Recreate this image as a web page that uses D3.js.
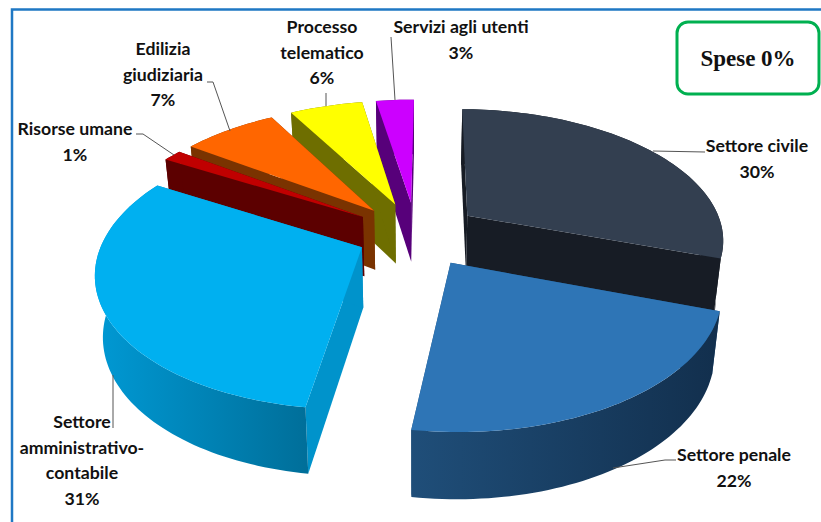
<!DOCTYPE html>
<html>
<meta charset="utf-8">
<style>
  html, body { margin: 0; padding: 0; background: #fff; }
  svg { display: block; }
  .lab { font-family: Lato, "Noto Sans", sans-serif; font-weight: 700; font-size: 17.7px; fill: #111; text-anchor: middle; }
</style>
<script src="https://d3js.org/d3.v7.min.js"></script>
<body>

<script>
var width = 821, height = 522;

// values (printed labels are these, rounded)
var categories = ["Settore civile", "Settore penale", "Settore amministrativo-contabile", "Risorse umane", "Edilizia giudiziaria", "Processo telematico", "Servizi agli utenti"];
var values = [30.15, 22, 31, 1.4, 7.1, 5.5, 2.85];

// how each category name is broken on lines
var labelLines = [["Settore civile"], ["Settore penale"], ["Settore", "amministrativo-", "contabile"], ["Risorse umane"], ["Edilizia", "giudiziaria"], ["Processo", "telematico"], ["Servizi agli utenti"]];
var topColors = ["#333f50", "#2e75b6", "#00b0f0", "#c00000", "#ff6600", "#ffff00", "#cc00ff"];
var faceColors = ["#171c25", "#1f4e79", "#0093cb", "#5c0000", "#7a3300", "#6e6e00", "#57007a"];
// wall colour at its left and right end
var sideColors = [["#171c25", "#171c25"], ["#1f4e79", "#122f4d"], ["#0099d4", "#006f9a"], ["#5c0000", "#5c0000"], ["#7a3300", "#7a3300"], ["#6e6e00", "#6e6e00"], ["#57007a", "#57007a"]];
var explode = [0.25, 0.25, 0.23, 0.25, 0.25, 0.25, 0.25];
var labelX = [757, 734, 82, 75, 163, 322, 461];
var labelY = [146, 455, 422, 129, 49, 27, 27];
var leaders = [
  [[705, 152], [653, 151]],
  [[676, 460], [665, 460], [613, 468]],
  [[113, 428], [113, 375]],
  [[136, 134], [143, 134], [174, 155]],
  [[207, 82], [213, 82], [230, 131]],
  [[326, 93], [326, 106]],
  [[391, 37], [395, 100]]
];

var depth = 5.97, thick = 60, bottomShrink = 0.975, turn = 0.01;

var x = d3.scaleLinear().domain([-1, 1]).range([416 - 257, 416 + 257]);
var y = d3.scaleLinear().domain([-1, 1]).range([234 - 130, 234 + 130]);

var svg = d3.select("body").append("svg").attr("width", width).attr("height", height);
var defs = svg.append("defs");

svg.append("rect").attr("x", 12).attr("y", 9.5).attr("width", width + 20).attr("height", height + 20)
  .attr("fill", "#fff").attr("stroke", "#1f78c4").attr("stroke-width", 2.5);

var arcs = d3.pie().value(function(d) { return d; }).sort(null)
  .startAngle(turn).endAngle(2 * Math.PI + turn)(values);

// plane point (u right, v toward the viewer) to screen, with perspective
function project(u, v, low) {
  var s = 1 / (1 - v / depth);
  var px = x(u * s), py = y(v * s);
  if (low) {
    px = x(0) + (px - x(0)) * bottomShrink;
    py = py + thick * Math.sqrt(s);
  }
  return [px, py];
}

function rimPoint(a, th, low) {
  var mid = (a.startAngle + a.endAngle) / 2, e = explode[a.index];
  return project(e * Math.sin(mid) + Math.sin(th), -e * Math.cos(mid) - Math.cos(th), low);
}

function apex(a, low) {
  var mid = (a.startAngle + a.endAngle) / 2, e = explode[a.index];
  return project(e * Math.sin(mid), -e * Math.cos(mid), low);
}

function rim(a, low) {
  var n = Math.max(4, Math.ceil((a.endAngle - a.startAngle) * 40));
  return d3.range(n + 1).map(function(i) {
    return rimPoint(a, a.startAngle + (a.endAngle - a.startAngle) * i / n, low);
  });
}

var line = d3.line();
var shape = d3.line().curve(d3.curveLinearClosed);

// painter's order: far slices first, the front ones over them
var order = [6, 5, 4, 3, 0, 2, 1];

order.forEach(function(i) {
  var a = arcs[i];
  var g = svg.append("g").attr("class", "slice");
  var gradId = "side" + i;
  var topRim = rim(a, false), lowRim = rim(a, true);
  var ext = d3.extent(topRim, function(p) { return p[0]; });
  var grad = defs.append("linearGradient").attr("id", gradId).attr("gradientUnits", "userSpaceOnUse")
    .attr("x1", ext[0]).attr("x2", ext[1]).attr("y1", 0).attr("y2", 0);
  grad.append("stop").attr("offset", "0%").attr("stop-color", sideColors[i][0]);
  grad.append("stop").attr("offset", "100%").attr("stop-color", sideColors[i][1]);

  // the two cut faces
  [a.startAngle, a.endAngle].forEach(function(th) {
    g.append("path")
      .attr("d", shape([apex(a, false), rimPoint(a, th, false), rimPoint(a, th, true), apex(a, true)]))
      .attr("fill", faceColors[i]);
  });
  // curved wall
  g.append("path")
    .attr("d", shape(topRim.concat(lowRim.slice().reverse())))
    .attr("fill", "url(#" + gradId + ")");
  // top
  g.append("path")
    .attr("d", shape([apex(a, false)].concat(topRim)))
    .attr("fill", topColors[i]);
});

// leader lines
svg.selectAll("path.leader").data(leaders).enter().append("path")
  .attr("class", "leader")
  .attr("d", function(d) { return line(d); })
  .attr("fill", "none").attr("stroke", "#555").attr("stroke-width", 1);

// labels
categories.forEach(function(c, i) {
  var t = svg.append("text").attr("class", "lab").attr("aria-label", c);
  labelLines[i].concat([Math.round(values[i]) + "%"]).forEach(function(s, k) {
    t.append("tspan").attr("x", labelX[i]).attr("y", labelY[i] + 6 + k * 25.7).text(s);
  });
});

// box top right
svg.append("rect").attr("x", 677).attr("y", 22).attr("width", 142).attr("height", 72).attr("rx", 11)
  .attr("fill", "#fff").attr("stroke", "#00b050").attr("stroke-width", 3);
svg.append("text").attr("x", 748).attr("y", 66).attr("text-anchor", "middle")
  .attr("font-family", "'Liberation Serif', serif").attr("font-weight", 700).attr("font-size", 23)
  .attr("fill", "#111").text("Spese 0%");
</script>
</body>
</html>
